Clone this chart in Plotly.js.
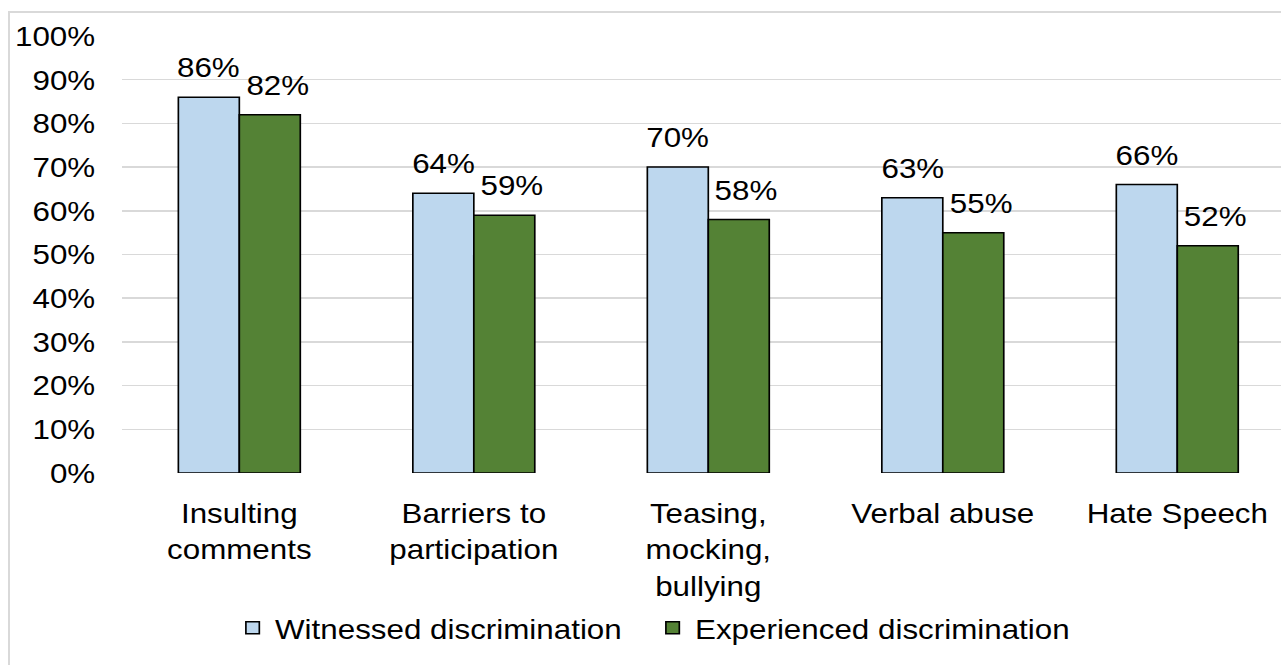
<!DOCTYPE html>
<html>
<head>
<meta charset="utf-8">
<script src="https://cdn.plot.ly/plotly-3.0.1.min.js"></script>
<style>
  html, body { margin: 0; padding: 0; background: #ffffff; overflow: hidden; width: 1281px; height: 665px; }
  #chart { position: absolute; left: 0; top: 0; width: 1144px; height: 665px; transform: scaleX(1.12); transform-origin: 0 0; }
  #frame { position: absolute; left: 8px; top: 11px; width: 1400px; height: 800px;
           border-left: 2px solid #d9d9d9; border-top: 2px solid #d9d9d9; pointer-events: none; }
</style>
</head>
<body>
<div id="chart"></div>
<div id="frame"></div>
<script>
// Forms of discrimination, share of respondents (%)
const categories = [
  "Insulting<br>comments",
  "Barriers to<br>participation",
  "Teasing,<br>mocking,<br>bullying",
  "Verbal abuse",
  "Hate Speech"
];
const witnessed = [86, 64, 70, 63, 66];
const experienced = [82, 59, 58, 55, 52];
const seriesNames = ["Witnessed discrimination", "Experienced discrimination"];
const yTicks = [0, 10, 20, 30, 40, 50, 60, 70, 80, 90, 100];

const FONT = "Liberation Sans, Arial, sans-serif";
const BLUE = "#BDD7EE";
const GREEN = "#548235";

const traces = [
  {
    type: "bar", name: seriesNames[0], x: categories, y: witnessed,
    marker: { color: BLUE, line: { color: "#000000", width: 1.5 } }
  },
  {
    type: "bar", name: seriesNames[1], x: categories, y: experienced,
    marker: { color: GREEN, line: { color: "#000000", width: 1.5 } }
  }
];

// value labels above each bar, offset to the bar's slot within the group
const labels = [];
witnessed.forEach((v, i) => labels.push({
  x: categories[i], y: v, text: v + "%", xref: "x", yref: "y",
  xanchor: "center", yanchor: "bottom", xshift: -27.2, yshift: 12, showarrow: false
}));
experienced.forEach((v, i) => labels.push({
  x: categories[i], y: v, text: v + "%", xref: "x", yref: "y",
  xanchor: "center", yanchor: "bottom", xshift: 34, yshift: 12, showarrow: false
}));

const layout = {
  width: 1144, height: 665,
  margin: { l: 109, r: 0, t: 36, b: 192, pad: 0 },
  paper_bgcolor: "#ffffff", plot_bgcolor: "#ffffff",
  font: { family: FONT, size: 28, color: "#000000" },
  barmode: "group", bargap: 0.48, bargroupgap: 0,
  showlegend: true,
  legend: {
    orientation: "h", x: 0.4556, xanchor: "center", y: -0.355, yanchor: "middle",
    entrywidth: 330, entrywidthmode: "pixels",
    font: { family: FONT, size: 28, color: "#000000" }, bgcolor: "rgba(0,0,0,0)"
  },
  xaxis: {
    type: "category", range: [-0.5, 4.4435], showgrid: false, showline: false,
    zeroline: false, ticks: "", ticklabelstandoff: 21,
    tickfont: { family: FONT, size: 28, color: "#000000" }
  },
  yaxis: {
    range: [0, 100], tickvals: yTicks, ticktext: yTicks.map(t => t + "%"),
    showgrid: true, gridcolor: "#d9d9d9", gridwidth: 1.5,
    zeroline: false, showline: false, ticks: "", ticklabelstandoff: 23,
    tickfont: { family: FONT, size: 28, color: "#000000" }
  },
  annotations: labels
};

Plotly.newPlot("chart", traces, layout, { staticPlot: true, displayModeBar: false, responsive: false });
</script>
</body>
</html>
